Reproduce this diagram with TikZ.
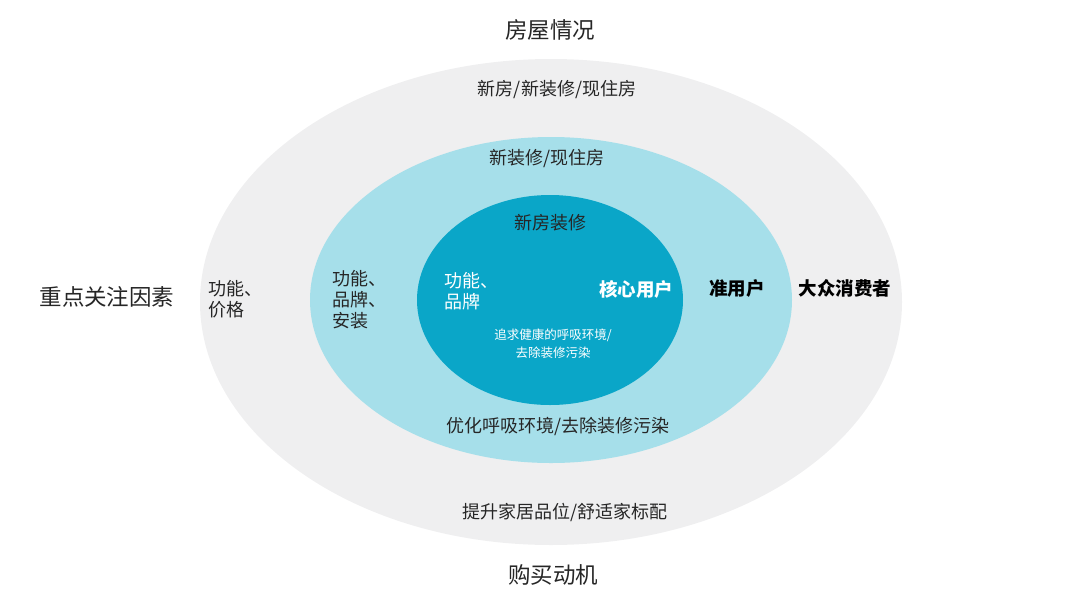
\documentclass[tikz,border=0pt]{standalone}
\usepackage{fontspec}
\setmainfont{Noto Sans CJK SC}
\usetikzlibrary{shapes.geometric}

\definecolor{outergrey}{HTML}{EFEFF0}
\definecolor{midblue}{HTML}{A6DFEA}
\definecolor{coreblue}{HTML}{0AA6C8}
\definecolor{inktext}{HTML}{262626}

\tikzset{
  ring/.style={ellipse, inner sep=0pt},
  head/.style={font=\fontsize{22.5}{26}\selectfont, text=inktext},
  lbl/.style={font=\fontsize{18}{21}\selectfont, text=inktext},
  grp/.style={font=\bfseries\fontsize{18.5}{21}\selectfont, text=black},
  corelbl/.style={font=\fontsize{18}{21}\selectfont, text=white},
  coresmall/.style={font=\fontsize{12.5}{18}\selectfont, text=white, align=center}
}

\begin{document}
\begin{tikzpicture}[x=1pt,y=-1pt]
\useasboundingbox (0,0) rectangle (1080,606);

% the three rings
\node[ring, fill=outergrey, minimum width=702, minimum height=486] (outer) at (551,302) {};
\node[ring, fill=midblue, minimum width=482, minimum height=326] (mid) at (551,300) {};
\node[ring, fill=coreblue, minimum width=266, minimum height=210] (core) at (550,300) {};

% axis titles
\node[head] (house) at (550,30) {房屋情况};
\node[head] (motive) at (553,575) {购买动机};
\node[head] (focus) at (107,297) {重点关注因素};

% house situation
\node[lbl] (h1) at (557,90) {新房/新装修/现住房};
\node[lbl] (h2) at (547,159) {新装修/现住房};
\node[lbl] (h3) at (550,223) {新房装修};

% focus factors
\node[lbl, anchor=west, align=left] (f1) at (205,299) {功能、\\价格};
\node[lbl, anchor=west, align=left] (f2) at (329,300) {功能、\\品牌、\\安装};
\node[corelbl, anchor=west, align=left] (f3) at (441,291) {功能、\\品牌};

% user groups
\node[grp, text=white] (g1) at (636,289) {核心用户};
\node[grp] (g2) at (737,288) {准用户};
\node[grp] (g3) at (845,288) {大众消费者};

% motives
\node[coresmall] (m1) at (553,344) {追求健康的呼吸环境/\\去除装修污染};
\node[lbl] (m2) at (558,426) {优化呼吸环境/去除装修污染};
\node[lbl] (m3) at (565,512) {提升家居品位/舒适家标配};
\end{tikzpicture}
\end{document}
